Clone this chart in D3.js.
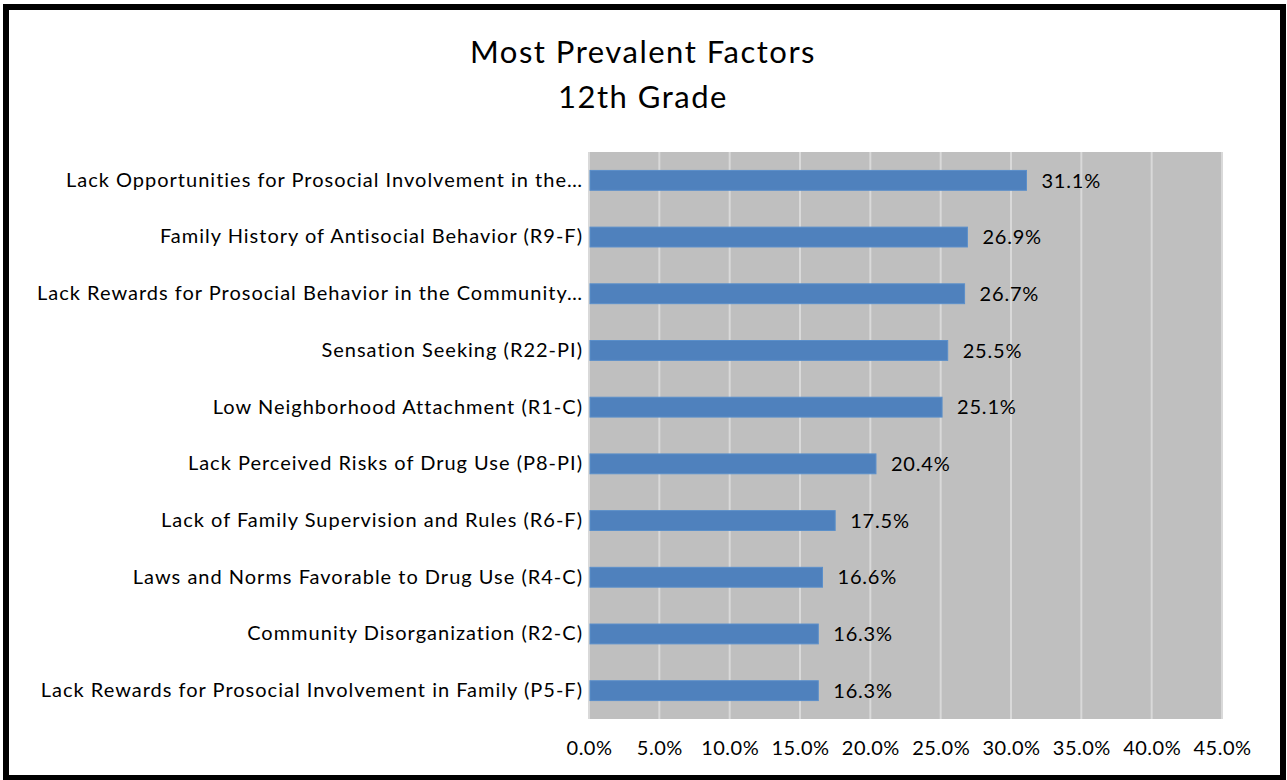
<!DOCTYPE html>
<html>
<head>
<meta charset="utf-8">
<script src="https://cdn.jsdelivr.net/npm/d3@7"></script>
<style>
  html, body { margin: 0; padding: 0; background: #fff; }
  svg { display: block; font-family: Lato, "Open Sans", sans-serif; }
</style>
</head>
<body>
<svg id="chart" width="1287" height="780"></svg>
<script>
// Risk factors, 12th grade
const categories = [
  "Lack Opportunities for Prosocial Involvement in the…",
  "Family History of Antisocial Behavior (R9-F)",
  "Lack Rewards for Prosocial Behavior in the Community…",
  "Sensation Seeking (R22-PI)",
  "Low Neighborhood Attachment (R1-C)",
  "Lack Perceived Risks of Drug Use (P8-PI)",
  "Lack of Family Supervision and Rules (R6-F)",
  "Laws and Norms Favorable to Drug Use (R4-C)",
  "Community Disorganization (R2-C)",
  "Lack Rewards for Prosocial Involvement in Family (P5-F)"
];
const values = [31.1, 26.9, 26.7, 25.5, 25.1, 20.4, 17.5, 16.6, 16.3, 16.3];
const xTicks = [0, 5, 10, 15, 20, 25, 30, 35, 40, 45];
const titleLines = ["Most Prevalent Factors", "12th Grade"];

const svg = d3.select("#chart");
const W = 1287, H = 780;
const plot = { left: 589, right: 1222, top: 152, bottom: 719 };
const FONT = "Lato, 'Open Sans', sans-serif";

// outer frame
svg.append("rect")
  .attr("x", 6).attr("y", 7)
  .attr("width", W - 10).attr("height", H - 9)
  .attr("fill", "#fff").attr("stroke", "#000").attr("stroke-width", 6);

// title
svg.append("g").selectAll("text").data(titleLines).join("text")
  .attr("x", 643).attr("y", (d, i) => 63 + i * 45)
  .attr("text-anchor", "middle")
  .attr("font-size", 31)
  .attr("letter-spacing", 1.5)
  .attr("fill", "#000")
  .text(d => d);

const x = d3.scaleLinear().domain([0, 45]).range([plot.left, plot.right]);
const y = d3.scaleBand().domain(categories).range([plot.top, plot.bottom]).paddingInner(0.65).paddingOuter(0.325);

// plot background
svg.append("rect")
  .attr("x", plot.left).attr("y", plot.top)
  .attr("width", plot.right - plot.left).attr("height", plot.bottom - plot.top)
  .attr("fill", "#bfbfbf");

// vertical gridlines
svg.append("g").selectAll("line").data(xTicks).join("line")
  .attr("x1", d => x(d)).attr("x2", d => x(d))
  .attr("y1", plot.top).attr("y2", plot.bottom)
  .attr("stroke", "#d9d9d9").attr("stroke-width", 2);

// bars
svg.append("g").selectAll("rect").data(values).join("rect")
  .attr("x", x(0) + 1)
  .attr("y", (d, i) => y(categories[i]))
  .attr("width", d => x(d) - x(0) - 1)
  .attr("height", y.bandwidth())
  .attr("fill", "#4f81bd")
  .attr("stroke", "#5b8fca").attr("stroke-width", 1);

// value labels
svg.append("g").selectAll("text").data(values).join("text")
  .attr("x", d => x(d) + 15)
  .attr("y", (d, i) => y(categories[i]) + y.bandwidth() / 2)
  .attr("dy", "0.36em")
  .attr("font-size", 20)
  .attr("letter-spacing", 0.8)
  .attr("fill", "#000")
  .text(d => d.toFixed(1) + "%");

// category axis
const yAxis = svg.append("g")
  .attr("transform", `translate(${plot.left - 6},0)`)
  .call(d3.axisLeft(y).tickSize(0).tickPadding(0));
yAxis.select(".domain").remove();
yAxis.selectAll("text").attr("font-size", 20).attr("fill", "#000")
  .attr("letter-spacing", 1.0)
  .attr("font-family", FONT);

// value axis
const xAxis = svg.append("g")
  .attr("transform", `translate(0,${plot.bottom + 29})`)
  .call(d3.axisBottom(x).tickValues(xTicks).tickSize(0).tickPadding(0)
    .tickFormat(d => d.toFixed(1) + "%"));
xAxis.select(".domain").remove();
xAxis.selectAll("text").attr("font-size", 20).attr("fill", "#000")
  .attr("letter-spacing", 0.5)
  .attr("dy", "0.36em")
  .attr("font-family", FONT);
</script>
</body>
</html>
